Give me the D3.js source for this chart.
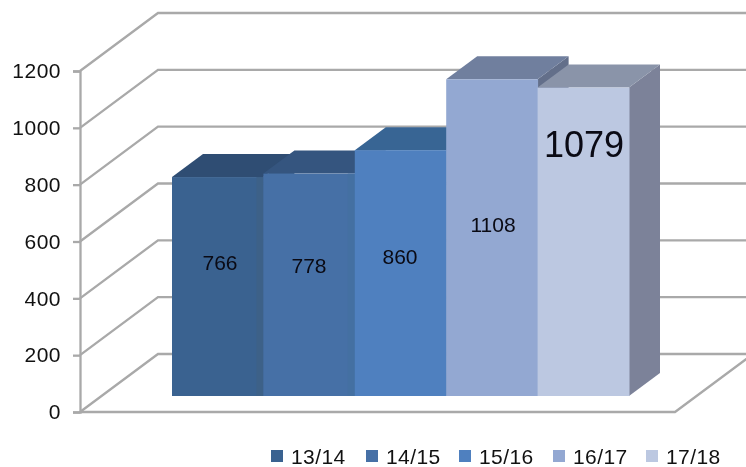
<!DOCTYPE html>
<html><head><meta charset="utf-8">
<style>html,body{margin:0;padding:0;background:#fff}svg{display:block;filter:blur(0.45px)}text{font-family:"Liberation Sans",Arial,sans-serif}</style>
<script src="https://cdn.jsdelivr.net/npm/d3@7"></script></head><body>
<svg id="c" width="746" height="467"></svg>
<script>
const categories = ["13/14","14/15","15/16","16/17","17/18"];
const values = [766,778,860,1108,1079];
const tickLabels = [0,200,400,600,800,1000,1200];

const frontColors = ["#3a6290","#4670a6","#4f80bf","#93a8d2","#bcc8e1"];
const topColors   = ["#2f4d73","#35557f","#386594","#707f9e","#8a94a9"];
const sideColors  = ["#3c6088","#3f6594","#46709f","#636f8a","#7c8299"];
const stripColors = ["#3d6188","#4470a2",null,null,null];
const labelCenterY = [262.5,265.5,256.5,224.5,144];
const labelSize = [21,21,21,21,36];
const labelCenterX = [220,309,400,493,584];
const legendSwatchX = [271,366,459,553,646];

const svg = d3.select("#c");
const gridColor = "#a9a9a9";
const wallDx = 78, wallDy = 58;
const barDx = 31, barDy = 23;
const axisX = 80, floorRight = 675;

const yAxisScale = d3.scaleLinear().domain([0,1200]).range([412,71]);
const barY = d3.scaleLinear().domain([0,1200]).range([396,53]);
const barX = d3.scaleBand().domain(categories).range([172,629]).padding(0);

const grid = svg.append("g").attr("fill","none").attr("stroke",gridColor).attr("stroke-width",2.3);
grid.selectAll("path").data(tickLabels).join("path")
  .attr("d",d=>{
    const y=yAxisScale(d);
    return d3.line()([[axisX,y],[axisX+wallDx,y-wallDy],[746,y-wallDy]]);
  });
grid.append("path").attr("d",d3.line()([[axisX,412],[floorRight,412],[floorRight+wallDx,412-wallDy]]));

const axis = svg.append("g").attr("transform",`translate(${axisX},0)`)
  .call(d3.axisLeft(yAxisScale).tickValues(tickLabels).tickFormat(d3.format("d")).tickSize(7).tickPadding(12));
axis.selectAll("path,line").attr("stroke",gridColor).attr("stroke-width",2.3);
axis.selectAll("text").attr("font-size",21).attr("letter-spacing",0.5).attr("fill","#111");

const bars = svg.append("g").selectAll("g").data(categories).join("g");
const bw = barX.bandwidth();
bars.append("path").attr("fill",(d,i)=>sideColors[i]).attr("d",(d,i)=>{
  const x=barX(d)+bw, t=barY(values[i]), b=barY(0);
  return d3.line()([[x,t],[x+barDx,t-barDy],[x+barDx,b-barDy],[x,b]])+"Z";
});
bars.append("path").attr("fill",(d,i)=>topColors[i]).attr("d",(d,i)=>{
  const x=barX(d), t=barY(values[i]);
  return d3.line()([[x,t],[x+barDx,t-barDy],[x+bw+barDx,t-barDy],[x+bw,t]])+"Z";
});
bars.append("rect").attr("x",d=>barX(d)).attr("width",bw+0.5)
  .attr("y",(d,i)=>barY(values[i])).attr("height",(d,i)=>barY(0)-barY(values[i]))
  .attr("fill",(d,i)=>frontColors[i]);
bars.filter((d,i)=>stripColors[i]).append("rect").attr("x",d=>barX(d)+bw-7).attr("width",7)
  .attr("y",d=>barY(values[categories.indexOf(d)])).attr("height",d=>barY(0)-barY(values[categories.indexOf(d)]))
  .attr("fill",d=>stripColors[categories.indexOf(d)]);

svg.append("g").selectAll("text").data(values).join("text")
  .attr("x",(d,i)=>labelCenterX[i])
  .attr("y",(d,i)=>labelCenterY[i]).attr("dy","0.36em")
  .attr("text-anchor","middle").attr("font-size",(d,i)=>labelSize[i]).attr("fill","#0a0a14")
  .text(d=>d);

const leg = svg.append("g").selectAll("g").data(categories).join("g")
  .attr("transform",(d,i)=>`translate(${legendSwatchX[i]},450)`);
leg.append("rect").attr("width",12).attr("height",12).attr("fill",(d,i)=>frontColors[i]);
leg.append("text").attr("x",20).attr("y",13.5).attr("font-size",21).attr("letter-spacing",0.4).attr("fill","#111").text(d=>d);
</script></body></html>
